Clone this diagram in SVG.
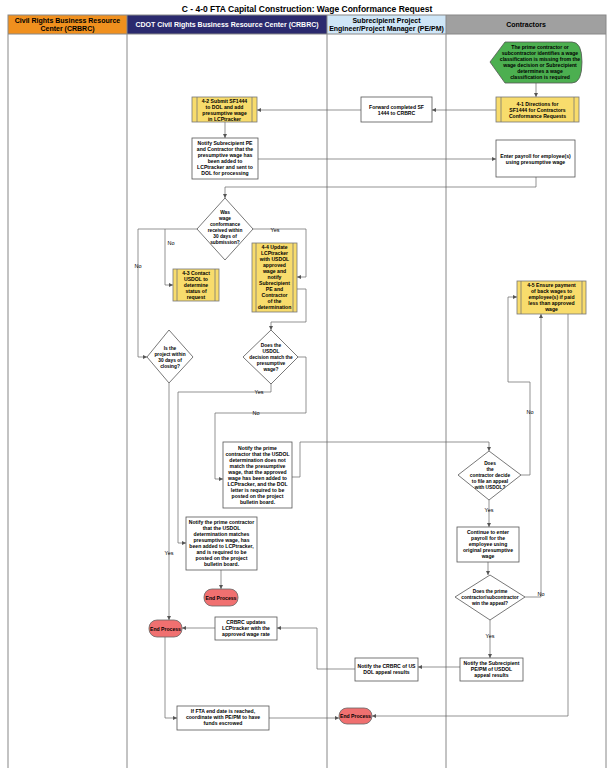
<svg xmlns="http://www.w3.org/2000/svg" width="615" height="768" viewBox="0 0 615 768">
<style>
text{font-family:"Liberation Sans",Arial,sans-serif;font-weight:bold;text-anchor:middle;fill:#000}
.t{font-size:5.1px}
.d text{font-size:4.8px}
.h{font-size:7px}
.box{fill:#fff;stroke:#555;stroke-width:0.8}
.y{fill:#f8dc6c;stroke:#777;stroke-width:0.8}
.yl{stroke:#777;stroke-width:0.8}
.end{fill:#f07070;stroke:#666;stroke-width:0.8}
.c path{fill:none;stroke:#666;stroke-width:0.7;marker-end:url(#a)}
.lab{font-size:5.5px;font-weight:normal}
.lane{fill:none;stroke:#888;stroke-width:1}
</style>
<defs><marker id="a" markerWidth="5" markerHeight="5" refX="4" refY="2.5" orient="auto" markerUnits="userSpaceOnUse"><path d="M0,0.5 L4,2.5 L0,4.5z" fill="#555"/></marker></defs>
<rect width="615" height="768" fill="#fff"/>
<text x="307" y="12" style="font-size:8.5px">C - 4-0 FTA Capital Construction: Wage Conformance Request</text>
<g id="lanes">
<rect x="8" y="15" width="119" height="19" fill="#f0901e"/>
<rect x="127" y="15" width="200" height="19" fill="#2b2a6e"/>
<rect x="327" y="15" width="119" height="19" fill="#cfe6f7"/>
<rect x="446" y="15" width="160" height="19" fill="#a0a0a0"/>
<rect x="8" y="15" width="598" height="760" class="lane"/>
<path d="M127 15V768M327 15V768M446 15V768M8 34H606" class="lane"/>
<text class="h" x="67.5" y="23">Civil Rights Business Resource</text><text class="h" x="67.5" y="31">Center (CRBRC)</text>
<text class="h" x="227" y="27" style="fill:#fff">CDOT Civil Rights Business Resource Center (CRBRC)</text>
<text class="h" x="386.5" y="23">Subrecipient Project</text><text class="h" x="386.5" y="31">Engineer/Project Manager (PE/PM)</text>
<text class="h" x="526" y="27">Contractors</text>
</g>
<g class="c" id="connectors">
<path d="M536 83V97"/>
<path d="M496 110H432"/>
<path d="M361 110H257"/>
<path d="M225 122V138"/>
<path d="M258 159H496"/>
<path d="M536 177V187H225V198"/>
<path d="M198 229H138V357H147"/>
<path d="M165 229V285H173"/>
<path d="M252 229H306V277H297"/>
<path d="M297 289H306V322H271V330"/>
<path d="M271 383V392H178V543H186"/>
<path d="M297 357H306V413H215V479H223"/>
<path d="M292 477H300V442H489V451"/>
<path d="M521 475H530V382H508V297H517"/>
<path d="M489 500V527"/>
<path d="M488 562V575"/>
<path d="M525 597H541V314"/>
<path d="M568 314V716H372"/>
<path d="M490 620V658"/>
<path d="M460 667H418"/>
<path d="M355 669H317V628H277"/>
<path d="M215 628H182"/>
<path d="M169 383V620"/>
<path d="M221 570V589"/>
<path d="M165 637V718H177"/>
<path d="M269 718H339"/>
</g>
<g id="labels">
<text class="lab" x="138" y="268">No</text>
<text class="lab" x="171" y="245">No</text>
<text class="lab" x="275" y="232">Yes</text>
<text class="lab" x="259" y="394">Yes</text>
<text class="lab" x="256" y="415">No</text>
<text class="lab" x="530" y="414">No</text>
<text class="lab" x="489" y="512">Yes</text>
<text class="lab" x="541" y="596">No</text>
<text class="lab" x="490" y="638">Yes</text>
<text class="lab" x="169" y="555">Yes</text>
</g>
<g id="start"><path d="M490 62L505 42H572Q582 42 582 62Q582 83 572 83H505Z" fill="#4caf50" stroke="#555" stroke-width="0.8"/>
<text class="t" x="540" y="49">The prime contractor or</text><text class="t" x="540" y="55">subcontractor identifies a wage</text><text class="t" x="540" y="61">classification is missing from the</text><text class="t" x="540" y="67">wage decision or Subrecipient</text><text class="t" x="540" y="73">determines a wage</text><text class="t" x="540" y="79">classification is required</text></g>
<g id="n41"><rect class="y" x="496" y="97" width="83" height="25"/><path class="yl" d="M501 97V122M574 97V122"/>
<text class="t" x="537.5" y="106">4-1 Directions for</text><text class="t" x="537.5" y="112">SF1444 for Contractors</text><text class="t" x="537.5" y="118">Conformance Requests</text></g>
<g id="fwd"><rect class="box" x="361" y="97" width="71" height="25"/>
<text class="t" x="396.5" y="109">Forward completed SF</text><text class="t" x="396.5" y="115">1444 to CRBRC</text></g>
<g id="n42"><rect class="y" x="192" y="97" width="65" height="25"/><path class="yl" d="M197 97V122M252 97V122"/>
<text class="t" x="224.5" y="103">4-2 Submit SF1444</text><text class="t" x="224.5" y="109">to DOL and add</text><text class="t" x="224.5" y="115">presumptive wage</text><text class="t" x="224.5" y="121">in LCPtracker</text></g>
<g id="notify1"><rect class="box" x="192" y="138" width="66" height="41"/>
<text class="t" x="225" y="145">Notify Subrecipient PE</text><text class="t" x="225" y="151">and Contractor that the</text><text class="t" x="225" y="157">presumptive wage has</text><text class="t" x="225" y="163">been added to</text><text class="t" x="225" y="169">LCPtracker and sent to</text><text class="t" x="225" y="175">DOL for processing</text></g>
<g id="payroll"><rect class="box" x="496" y="140" width="79" height="37"/>
<text class="t" x="535.5" y="158">Enter payroll for employee(s)</text><text class="t" x="535.5" y="164">using presumptive wage</text></g>
<g id="d1" class="d"><path class="box" d="M225 198L253 229L225 260L197 229Z"/>
<text x="225" y="214">Was</text><text x="225" y="220">wage</text><text x="225" y="226">conformance</text><text x="225" y="232">received within</text><text x="225" y="238">30 days of</text><text x="225" y="244">submission?</text></g>
<g id="n43"><rect class="y" x="173" y="269" width="46" height="32"/><path class="yl" d="M177 269V301M215 269V301"/>
<text class="t" x="196" y="275">4-3 Contact</text><text class="t" x="196" y="281">USDOL to</text><text class="t" x="196" y="287">determine</text><text class="t" x="196" y="293">status of</text><text class="t" x="196" y="299">request</text></g>
<g id="n44"><rect class="y" x="252" y="243" width="45" height="69"/><path class="yl" d="M256 243V312M293 243V312"/>
<text class="t" x="274.5" y="249">4-4 Update</text><text class="t" x="274.5" y="255">LCPtracker</text><text class="t" x="274.5" y="261">with USDOL</text><text class="t" x="274.5" y="267">approved</text><text class="t" x="274.5" y="273">wage and</text><text class="t" x="274.5" y="279">notify</text><text class="t" x="274.5" y="285">Subrecipient</text><text class="t" x="274.5" y="291">PE and</text><text class="t" x="274.5" y="297">Contractor</text><text class="t" x="274.5" y="303">of the</text><text class="t" x="274.5" y="309">determination</text></g>
<g id="n45"><rect class="y" x="517" y="281" width="69" height="33"/><path class="yl" d="M521 281V314M582 281V314"/>
<text class="t" x="551.5" y="287">4-5 Ensure payment</text><text class="t" x="551.5" y="293">of back wages to</text><text class="t" x="551.5" y="299">employee(s) if paid</text><text class="t" x="551.5" y="305">less than approved</text><text class="t" x="551.5" y="311">wage</text></g>
<g id="dproj" class="d"><path class="box" d="M169 330L193 357L169 383L147 357Z"/>
<text x="170" y="350">Is the</text><text x="170" y="356">project within</text><text x="170" y="362">30 days of</text><text x="170" y="368">closing?</text></g>
<g id="d2" class="d"><path class="box" d="M271 330L298 357L271 384L243 357Z"/>
<text x="271" y="347">Does the</text><text x="271" y="353">USDOL</text><text x="271" y="359">decision match the</text><text x="271" y="365">presumptive</text><text x="271" y="371">wage?</text></g>
<g id="nomatch"><rect class="box" x="223" y="442" width="69" height="66"/>
<text class="t" x="257.5" y="450">Notify the prime</text><text class="t" x="257.5" y="456">contractor that the USDOL</text><text class="t" x="257.5" y="462">determination does not</text><text class="t" x="257.5" y="468">match the presumptive</text><text class="t" x="257.5" y="474">wage, that the approved</text><text class="t" x="257.5" y="480">wage has been added to</text><text class="t" x="257.5" y="486">LCPtracker, and the DOL</text><text class="t" x="257.5" y="492">letter is required to be</text><text class="t" x="257.5" y="498">posted on the project</text><text class="t" x="257.5" y="504">bulletin board.</text></g>
<g id="dappeal" class="d"><path class="box" d="M489 451L521 475L489 500L458 475Z"/>
<text x="490" y="465">Does</text><text x="490" y="471">the</text><text x="490" y="477">contractor decide</text><text x="490" y="483">to file an appeal</text><text x="490" y="489">with USDOL?</text></g>
<g id="matches"><rect class="box" x="186" y="517" width="71" height="53"/>
<text class="t" x="221.5" y="524">Notify the prime contractor</text><text class="t" x="221.5" y="530">that the USDOL</text><text class="t" x="221.5" y="536">determination matches</text><text class="t" x="221.5" y="542">presumptive wage, has</text><text class="t" x="221.5" y="548">been added to LCPtracker,</text><text class="t" x="221.5" y="554">and is required to be</text><text class="t" x="221.5" y="560">posted on the project</text><text class="t" x="221.5" y="566">bulletin board.</text></g>
<g id="continue"><rect class="box" x="457" y="527" width="62" height="35"/>
<text class="t" x="488" y="534">Continue to enter</text><text class="t" x="488" y="540">payroll for the</text><text class="t" x="488" y="546">employee using</text><text class="t" x="488" y="552">original presumptive</text><text class="t" x="488" y="558">wage</text></g>
<g id="dwin" class="d"><path class="box" d="M490 575L525 597L490 620L455 597Z"/>
<text x="490" y="593">Does the prime</text><text x="490" y="599">contractor/subcontractor</text><text x="490" y="605">win the appeal?</text></g>
<g id="end1"><rect class="end" x="204" y="589" width="34" height="17" rx="8"/><text class="t" x="221" y="599.5">End Process</text></g>
<g id="end2"><rect class="end" x="149" y="620" width="33" height="17" rx="8"/><text class="t" x="165.5" y="630.5">End Process</text></g>
<g id="end3"><rect class="end" x="339" y="708" width="33" height="16" rx="8"/><text class="t" x="355.5" y="718">End Process</text></g>
<g id="updates"><rect class="box" x="215" y="617" width="62" height="23"/>
<text class="t" x="246" y="624">CRBRC updates</text><text class="t" x="246" y="630">LCPtracker with the</text><text class="t" x="246" y="636">approved wage rate</text></g>
<g id="notifycrbrc"><rect class="box" x="355" y="658" width="63" height="23"/>
<text class="t" x="386.5" y="668">Notify the CRBRC of US</text><text class="t" x="386.5" y="674">DOL appeal results</text></g>
<g id="notifype"><rect class="box" x="460" y="658" width="63" height="23"/>
<text class="t" x="491.5" y="665">Notify the Subrecipient</text><text class="t" x="491.5" y="671">PE/PM of USDOL</text><text class="t" x="491.5" y="677">appeal results</text></g>
<g id="fta"><rect class="box" x="177" y="706" width="92" height="24"/>
<text class="t" x="223" y="713">If FTA end date is reached,</text><text class="t" x="223" y="719">coordinate with PE/PM to have</text><text class="t" x="223" y="725">funds escrowed</text></g>
</svg>
